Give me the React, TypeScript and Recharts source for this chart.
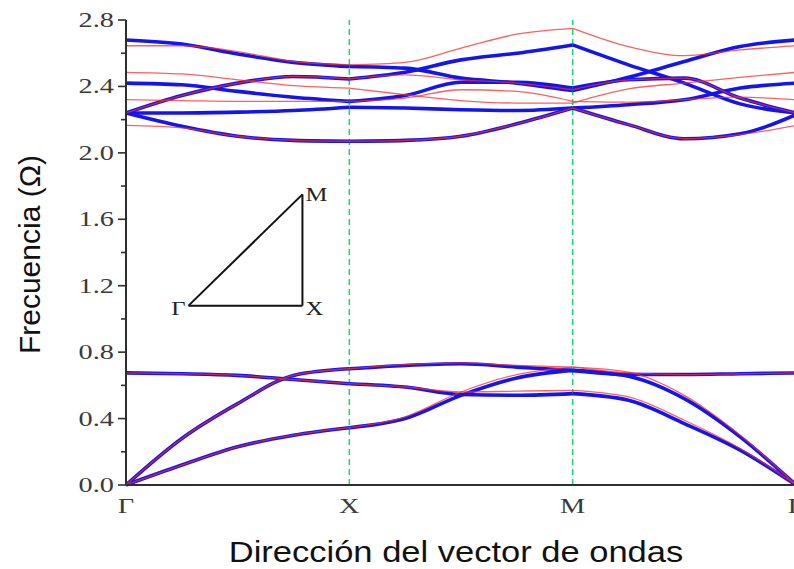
import { LineChart, Line, XAxis, YAxis, ReferenceLine, ReferenceDot } from "recharts";

// wave-vector path Γ → X → M → Γ, one unit per segment
const kPath = [0, 0.25, 0.5, 0.75, 1, 1.25, 1.5, 1.75, 2, 2.25, 2.5, 2.75, 3];
const pathTicks = [0, 1, 2, 3];
const pathLabels = ["Γ", "X", "M", "Γ"];
const freqTicks = [0, 0.2, 0.4, 0.6, 0.8, 1.0, 1.2, 1.4, 1.6, 1.8, 2.0, 2.2, 2.4, 2.6, 2.8];

// model A (thick blue)
const blueLow1 = [0, 0.12, 0.23, 0.3, 0.345, 0.4, 0.54, 0.645, 0.69, 0.655, 0.52, 0.29, 0];
const blueLow2 = [0, 0.28, 0.49, 0.66, 0.7, 0.72, 0.73, 0.71, 0.69, 0.665, 0.665, 0.67, 0.675];
const blueLow3 = [0.675, 0.67, 0.66, 0.635, 0.61, 0.59, 0.545, 0.54, 0.55, 0.51, 0.37, 0.21, 0];
const blueHigh1 = [2.68, 2.655, 2.595, 2.545, 2.52, 2.51, 2.45, 2.42, 2.375, 2.455, 2.55, 2.64, 2.68];
const blueHigh2 = [2.24, 2.345, 2.42, 2.46, 2.445, 2.485, 2.56, 2.6, 2.65, 2.53, 2.42, 2.295, 2.24];
const blueHigh3 = [2.42, 2.41, 2.37, 2.335, 2.31, 2.345, 2.425, 2.425, 2.39, 2.44, 2.45, 2.33, 2.24];
const blueHigh4 = [2.24, 2.24, 2.245, 2.255, 2.275, 2.27, 2.26, 2.255, 2.27, 2.29, 2.32, 2.39, 2.42];
const blueHigh5 = [2.24, 2.16, 2.1, 2.075, 2.07, 2.075, 2.1, 2.175, 2.27, 2.17, 2.085, 2.115, 2.23];

// model B (thin red)
const redLow1 = [0, 0.12, 0.23, 0.3, 0.345, 0.41, 0.56, 0.665, 0.71, 0.68, 0.54, 0.3, 0];
const redLow2 = [0, 0.28, 0.49, 0.66, 0.7, 0.725, 0.735, 0.72, 0.71, 0.675, 0.665, 0.67, 0.675];
const redLow3 = [0.675, 0.67, 0.66, 0.635, 0.61, 0.59, 0.56, 0.565, 0.57, 0.53, 0.39, 0.22, 0];
const redHigh1 = [2.645, 2.645, 2.61, 2.55, 2.53, 2.545, 2.63, 2.715, 2.75, 2.64, 2.585, 2.62, 2.645];
const redHigh2 = [2.485, 2.475, 2.44, 2.405, 2.39, 2.35, 2.315, 2.3, 2.3, 2.385, 2.42, 2.455, 2.485];
const redHigh3 = [2.32, 2.315, 2.31, 2.31, 2.31, 2.33, 2.38, 2.37, 2.31, 2.305, 2.32, 2.335, 2.32];
const redHigh4 = [2.24, 2.345, 2.42, 2.46, 2.445, 2.47, 2.44, 2.42, 2.38, 2.44, 2.45, 2.33, 2.24];
const redHigh5 = [2.165, 2.15, 2.1, 2.075, 2.07, 2.075, 2.1, 2.175, 2.27, 2.17, 2.085, 2.11, 2.165];

// first Brillouin zone sketch
const insetCorners = [
  { name: "Γ", k: 0.28, f: 1.08 },
  { name: "X", k: 0.79, f: 1.08 },
  { name: "M", k: 0.79, f: 1.75 },
];

const blueBands = [blueLow1, blueLow2, blueLow3, blueHigh1, blueHigh2, blueHigh3, blueHigh4, blueHigh5];
const redBands = [redLow1, redLow2, redLow3, redHigh1, redHigh2, redHigh3, redHigh4, redHigh5];

// each band is split at X and M so the curve may kink there
const segments = [
  [0, 4],
  [4, 8],
  [8, 12],
];

const rows = kPath.map((k, i) => {
  const row: Record<string, number | null> = { k };
  const put = (prefix: string, bands: number[][]) =>
    bands.forEach((band, b) =>
      segments.forEach(([a, z], s) => {
        row[`${prefix}${b}_${s}`] = i >= a && i <= z ? band[i] : null;
      })
    );
  put("blue", blueBands);
  put("red", redBands);
  return row;
});

const SERIF = '"Liberation Serif", "Times New Roman", serif';
const SANS = '"Liberation Sans", Arial, sans-serif';
const AXIS = "#2e2e2e";
const STRETCH = 1.35;

const isMajor = (v: number) => Math.round(v * 10) % 4 === 0;

function FreqTick({ x, y, payload }: any) {
  const v = payload.value as number;
  const major = isMajor(v);
  return (
    <g>
      <line x1={x} x2={x - (major ? 8 : 5)} y1={y} y2={y} stroke={AXIS} strokeWidth={1.6} />
      {major && (
        <text
          transform={`translate(${x - 12},${y + 7}) scale(${STRETCH},1)`}
          textAnchor="end"
          fontFamily={SERIF}
          fontSize={21}
          fill="#3a3a3a"
        >
          {v.toFixed(1)}
        </text>
      )}
    </g>
  );
}

function InnerTick({ x, y, payload }: any) {
  const major = isMajor(payload.value);
  return <line x1={x} x2={x - (major ? 8 : 5)} y1={y} y2={y} stroke={AXIS} strokeWidth={1.6} />;
}

function PathTick({ x, y, payload }: any) {
  return (
    <text
      transform={`translate(${x},${y + 28}) scale(${STRETCH},1)`}
      textAnchor="middle"
      fontFamily={SERIF}
      fontSize={21}
      fill="#3a3a3a"
    >
      {pathLabels[pathTicks.indexOf(payload.value)]}
    </text>
  );
}

function CornerMark({ cx, cy, name }: any) {
  const dx = name === "Γ" ? -3 : 3;
  const dy = name === "M" ? 7 : 9;
  return (
    <text
      transform={`translate(${cx + dx},${cy + dy}) scale(1.3,1)`}
      textAnchor={name === "Γ" ? "end" : "start"}
      fontFamily={SERIF}
      fontSize={19}
      fill="#222"
    >
      {name}
    </text>
  );
}

export default function App() {
  return (
    <div
      style={{
        position: "absolute",
        left: 0,
        top: 0,
        width: 794,
        height: 569,
        overflow: "hidden",
        background: "#fff",
      }}
    >
      <LineChart width={830} height={569} data={rows} margin={{ top: 20, right: 0, bottom: 0, left: 0 }}>
        <XAxis
          dataKey="k"
          type="number"
          domain={[0, 3]}
          ticks={pathTicks}
          interval={0}
          height={84}
          tickSize={0}
          tickMargin={0}
          tickLine={false}
          tick={<PathTick />}
          axisLine={{ stroke: AXIS, strokeWidth: 2 }}
          label={{
            content: (p: any) => {
              const vb = p.viewBox;
              return (
                <text
                  transform={`translate(${vb.x + vb.width / 2 - 5},${vb.y + 77}) scale(1.19,1)`}
                  textAnchor="middle"
                  fontFamily={SANS}
                  fontSize={29}
                  fill="#111"
                >
                  Dirección del vector de ondas
                </text>
              );
            },
          }}
        />
        <YAxis
          yAxisId="freq"
          type="number"
          domain={[0, 2.8]}
          ticks={freqTicks}
          interval={0}
          width={126}
          tickSize={0}
          tickMargin={0}
          tickLine={false}
          tick={<FreqTick />}
          axisLine={{ stroke: AXIS, strokeWidth: 2 }}
          label={{
            content: (p: any) => {
              const vb = p.viewBox;
              return (
                <text
                  transform={`translate(${vb.x + 40},${vb.y + vb.height / 2 + 2}) rotate(-90)`}
                  textAnchor="middle"
                  fontFamily={SANS}
                  fontSize={30}
                  fill="#111"
                >
                  Frecuencia (Ω)
                </text>
              );
            },
          }}
        />
        <YAxis
          yAxisId="mirror"
          orientation="right"
          type="number"
          domain={[0, 2.8]}
          ticks={freqTicks}
          interval={0}
          width={34}
          tickSize={0}
          tickMargin={0}
          tickLine={false}
          tick={<InnerTick />}
          axisLine={{ stroke: AXIS, strokeWidth: 2 }}
        />

        {[1, 2].map((k) => (
          <ReferenceLine
            key={`sym${k}`}
            yAxisId="freq"
            x={k}
            stroke="#14d867"
            strokeWidth={1.5}
            strokeDasharray="6 4"
          />
        ))}

        {insetCorners.map((c, i) => {
          const n = insetCorners[(i + 1) % insetCorners.length];
          return (
            <ReferenceLine
              key={`edge${i}`}
              yAxisId="freq"
              segment={[
                { x: c.k, y: c.f },
                { x: n.k, y: n.f },
              ]}
              stroke="#111"
              strokeWidth={2}
            />
          );
        })}
        {insetCorners.map((c) => (
          <ReferenceDot
            key={`corner${c.name}`}
            yAxisId="freq"
            x={c.k}
            y={c.f}
            r={0}
            shape={(p: any) => <CornerMark {...p} name={c.name} />}
          />
        ))}

        {blueBands.map((_, b) =>
          segments.map((__, s) => (
            <Line
              key={`blue${b}_${s}`}
              yAxisId="freq"
              dataKey={`blue${b}_${s}`}
              type="monotone"
              stroke="#1414ee"
              strokeWidth={3.6}
              dot={false}
              activeDot={false}
              connectNulls={false}
              isAnimationActive={false}
            />
          ))
        )}
        {redBands.map((_, b) =>
          segments.map((__, s) => (
            <Line
              key={`red${b}_${s}`}
              yAxisId="freq"
              dataKey={`red${b}_${s}`}
              type="monotone"
              stroke="#ff2a2a"
              strokeOpacity={0.75}
              strokeWidth={1.3}
              dot={false}
              activeDot={false}
              connectNulls={false}
              isAnimationActive={false}
            />
          ))
        )}
      </LineChart>
    </div>
  );
}
